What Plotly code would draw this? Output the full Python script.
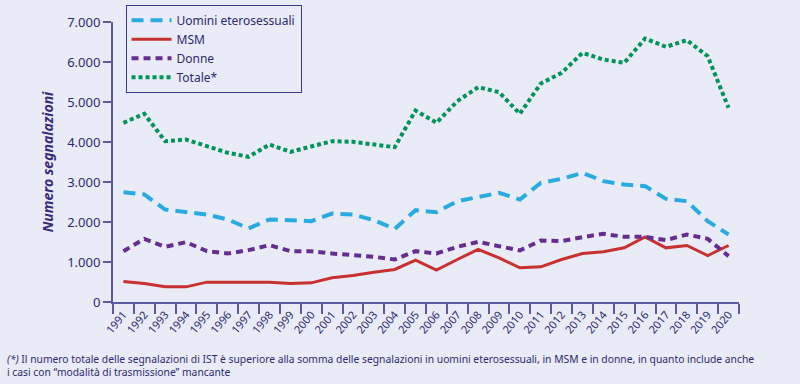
import plotly.graph_objects as go

years = [str(y) for y in range(1991, 2021)]
uomini = [2745, 2688, 2312, 2245, 2188, 2063, 1838, 2063, 2046, 2021, 2212, 2188, 2046, 1829, 2296,
          2246, 2521, 2621, 2729, 2563, 2979, 3079, 3229, 3021, 2938, 2896, 2579, 2521, 2021, 1688]
msm = [513, 463, 379, 379, 496, 496, 513, 496, 463, 479, 604, 663, 746, 813, 1046,
       796, 1063, 1313, 1104, 854, 879, 1063, 1213, 1254, 1354, 1629, 1354, 1413, 1163, 1413]
donne = [1271, 1579, 1379, 1496, 1271, 1213, 1296, 1421, 1271, 1271, 1213, 1179, 1129, 1063, 1271,
         1213, 1379, 1504, 1396, 1288, 1538, 1521, 1621, 1704, 1629, 1629, 1546, 1688, 1579, 1146]
totale = [4480, 4705, 4020, 4062, 3895, 3730, 3630, 3937, 3754, 3896, 4020, 4004, 3937, 3870, 4787,
          4480, 5020, 5370, 5246, 4705, 5462, 5729, 6229, 6062, 5979, 6587, 6379, 6546, 6146, 4854]
ytickvals = [0, 1000, 2000, 3000, 4000, 5000, 6000, 7000]
yticktext = ["0", "1.000", "2.000", "3.000", "4.000", "5.000", "6.000", "7.000"]

BG = "#e9ebf6"
NAVY = "#2e2a6e"
AXIS = "#5b5a9c"
FONT = "Noto Sans"

fig = go.Figure()
fig.add_trace(go.Scatter(x=years, y=uomini, mode="lines", name="Uomini eterosessuali",
                         line=dict(color="#29abe2", width=4, dash="12px,7px")))
fig.add_trace(go.Scatter(x=years, y=msm, mode="lines", name="MSM",
                         line=dict(color="#c8312f", width=3)))
fig.add_trace(go.Scatter(x=years, y=donne, mode="lines", name="Donne",
                         line=dict(color="#662d91", width=4, dash="7px,5px")))
fig.add_trace(go.Scatter(x=years, y=totale, mode="lines", name="Totale*",
                         line=dict(color="#00935a", width=4, dash="4px,3px")))

fig.update_layout(
    width=800, height=384,
    paper_bgcolor=BG, plot_bgcolor=BG,
    margin=dict(l=113, r=61, t=22, b=82, autoexpand=False),
    font=dict(family=FONT, color=NAVY, size=12),
    showlegend=True,
    legend=dict(x=0.02, y=1.062, xanchor="left", yanchor="top",
                bgcolor=BG, bordercolor="#3a3a8a", borderwidth=1,
                font=dict(size=12, color=NAVY), tracegroupgap=0,
                itemwidth=40),
    xaxis=dict(type="category", range=[-0.5, 29.5], showgrid=False,
               showline=True, linecolor=AXIS, linewidth=2,
               ticks="outside", tickson="boundaries", ticklen=10, tickcolor=AXIS, tickwidth=1.5,
               tickangle=-50, tickfont=dict(size=11, color=NAVY)),
    yaxis=dict(range=[0, 7000], showgrid=False, zeroline=False,
               showline=True, linecolor=AXIS, linewidth=2,
               ticks="outside", ticklen=8, tickcolor=AXIS, tickwidth=1.5,
               tickvals=ytickvals, ticktext=yticktext,
               tickfont=dict(size=13, color=NAVY),
               title=dict(text="<b><i>Numero segnalazioni</i></b>", font=dict(size=14, color="#3a2a7a"),
                          standoff=10)),
)

fig.add_annotation(
    xref="paper", yref="paper", x=-108/626, y=-0.17, xanchor="left", yanchor="top",
    showarrow=False, align="left",
    text="<i>(*)</i> Il numero totale delle segnalazioni di IST è superiore alla somma delle segnalazioni in uomini eterosessuali, in MSM e in donne, in quanto include anche<br>i casi con “modalità di trasmissione” mancante",
    font=dict(family=FONT, size=10.3, color=NAVY),
)

fig.write_html("out.html", config={"displayModeBar": False},
               post_script="document.body.style.margin='0';document.body.style.background='%s';" % BG)
